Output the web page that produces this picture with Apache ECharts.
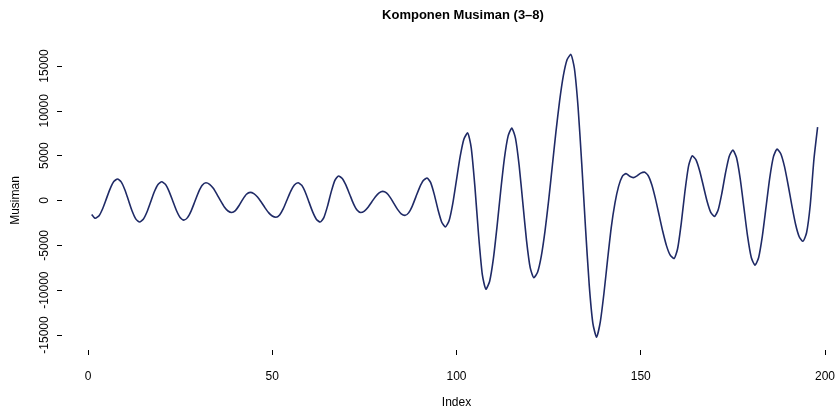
<!DOCTYPE html>
<html>
<head>
<meta charset="utf-8" />
<title>Komponen Musiman</title>
<style type="text/css">
  html, body {height:100%; margin:0px; padding:0px; background:#fff;}
  #main {width:838px; height:414px;}
</style>
<script type="text/javascript" src="https://cdn.jsdelivr.net/npm/echarts@6/dist/echarts.min.js"></script>
</head>
<body>
<div id="main"></div>
<script type="text/javascript">
// komponen musiman, index 1..198
var musiman = [
  -1550, -1980, -1690, -890, 210, 1300, 2110, 2400, 2080, 1200,
  0, -1200, -2080, -2400, -2100, -1280, -160, 970, 1790, 2090,
  1800, 1020, -50, -1120, -1900, -2190, -1910, -1150, -110, 940,
  1700, 1980, 1810, 1360, 690, -50, -720, -1170, -1340, -1130,
  -560, 130, 700, 910, 770, 390, -170, -790, -1350, -1730,
  -1870, -1610, -910, 60, 1020, 1720, 1980, 1690, 890, -210,
  -1300, -2110, -2400, -1910, -630, 960, 2240, 2730, 2460, 1710,
  700, -320, -1070, -1340, -1180, -750, -160, 430, 860, 1020,
  840, 350, -320, -990, -1480, -1660, -1380, -620, 430, 1470,
  2230, 2510, 1990, 630, -1060, -2420, -2940, -2240, -320, 2300,
  4920, 6840, 7540, 5880, 1520, -3880, -8240, -9900, -9000, -6520,
  -2910, 1090, 4700, 7180, 8080, 6960, 3910, -270, -4440, -7490,
  -8610, -8010, -6240, -3480, -20, 3850, 7710, 11170, 13930, 15700,
  16300, 14720, 10370, 4030, -2980, -9320, -13670, -15250, -13600, -10400,
  -6600, -3000, -300, 1600, 2700, 3000, 2700, 2550, 2750, 3050,
  3160, 2790, 1750, 180, -1660, -3490, -5060, -6100, -6470, -5380,
  -2520, 1030, 3890, 4980, 4530, 3290, 1610, -80, -1320, -1770,
  -1070, 780, 3070, 4920, 5620, 4760, 2410, -800, -4010, -6360,
  -7220, -6350, -3980, -750, 2490, 4860, 5730, 5220, 3800, 1730,
  -550, -2620, -4040, -4550, -3600, -500, 4600, 8190
];
var xTicks = [0, 50, 100, 150, 200];
var yTicks = [-15000, -10000, -5000, 0, 5000, 10000, 15000];

var data = [];
for (var i = 0; i < musiman.length; i++) {
  data.push([i + 1, musiman[i]]);
}

var myChart = echarts.init(document.getElementById('main'));

var font = 'Liberation Sans, Arial, sans-serif';

myChart.setOption({
  animation: false,
  title: {
    text: 'Komponen Musiman (3–8)',
    left: 458,
    top: 4,
    textAlign: 'center',
    textStyle: {fontFamily: font, fontSize: 13, fontWeight: 'bold', color: '#000'}
  },
  grid: {left: 88, right: 8, top: 66, bottom: 69, containLabel: false},
  xAxis: {
    type: 'value',
    min: xTicks[0],
    max: xTicks[xTicks.length - 1],
    interval: 50,
    offset: 15,
    name: 'Index',
    nameLocation: 'middle',
    nameGap: 47,
    nameTextStyle: {fontFamily: font, fontSize: 12, color: '#000'},
    axisLine: {show: false, onZero: false},
    axisTick: {show: true, length: 5, lineStyle: {color: '#000'}},
    axisLabel: {fontFamily: font, fontSize: 12, color: '#000', margin: 21},
    splitLine: {show: false}
  },
  yAxis: {
    type: 'value',
    min: yTicks[0],
    max: yTicks[yTicks.length - 1],
    interval: 5000,
    offset: 26,
    name: 'Musiman',
    nameLocation: 'middle',
    nameGap: 40,
    nameTextStyle: {fontFamily: font, fontSize: 12, color: '#000'},
    axisLine: {show: false, onZero: false},
    axisTick: {show: true, length: 5, lineStyle: {color: '#000'}},
    axisLabel: {
      fontFamily: font, fontSize: 12, color: '#000', rotate: 90, margin: 11,
      formatter: function (v) { return String(v); }
    },
    splitLine: {show: false}
  },
  series: [{
    name: 'musiman',
    type: 'line',
    data: data,
    clip: false,
    showSymbol: false,
    smooth: 0.2,
    lineStyle: {color: '#1f2a66', width: 1.6}
  }]
});
</script>
</body>
</html>
